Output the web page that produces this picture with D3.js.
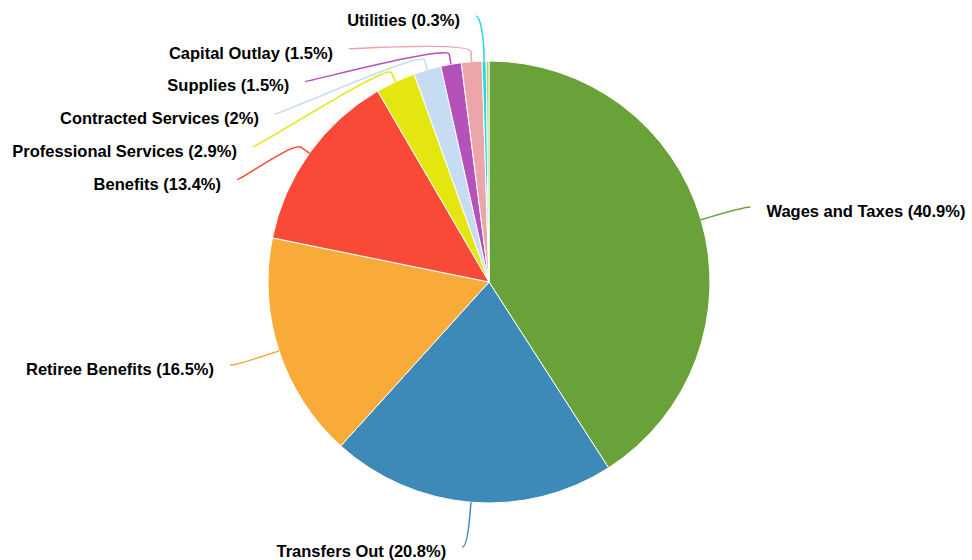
<!DOCTYPE html>
<html>
<head>
<meta charset="utf-8">
<script src="https://cdn.jsdelivr.net/npm/d3@7"></script>
<style>
  body { margin: 0; background: #fff; }
  .label { font-family: "Liberation Sans", Arial, Helvetica, sans-serif; font-weight: bold; font-size: 16.5px; fill: #000; }
</style>
</head>
<body>
<svg id="chart" width="972" height="560"></svg>
<script>
// Spending breakdown, percent of total, clockwise from 12 o'clock
const categories = ["Wages and Taxes", "Transfers Out", "Retiree Benefits", "Benefits",
  "Professional Services", "Contracted Services", "Supplies", "Capital Outlay", "Utilities", "Other"];
const shares = [40.9, 20.8, 16.5, 13.4, 2.9, 2, 1.5, 1.5, 0.3, 0.2];
const colors = ["#6aa23a", "#3d8ab8", "#f8ab38", "#f94a37", "#e3e70f",
  "#c6dcf2", "#b452b9", "#eca5a8", "#26d8dc", "#a6d864"];

const width = 972, height = 560;
const cx = 489, cy = 282, radius = 221;

const svg = d3.select("#chart");
const g = svg.append("g").attr("transform", `translate(${cx},${cy})`);

const data = categories.map((name, i) => ({ name, value: shares[i], color: colors[i] }));
const pie = d3.pie().sort(null).value(d => d.value);
const arcs = pie(data);
const arc = d3.arc().innerRadius(0).outerRadius(radius);

g.selectAll("path.slice")
  .data(arcs)
  .join("path")
  .attr("class", "slice")
  .attr("d", arc)
  .attr("fill", d => d.data.color)
  .attr("stroke", "#fff")
  .attr("stroke-width", 1)
  .attr("stroke-linejoin", "round");

// ---- label layout: natural position, then stacked per side so labels don't collide
const labelDist = radius + 45;   // natural label radius
const anchorDist = radius + 51;  // horizontal placement circle
const breakDist = radius + 10;   // connector elbow
const spacing = 32.7;
const topLimit = 16 - cy;
const polar = (R, a) => [R * Math.sin(a), -R * Math.cos(a)];

const labelled = arcs.filter(a => a.data.value >= 0.25);
labelled.forEach(a => {
  a.mid = (a.startAngle + a.endAngle) / 2;
  a.left = a.mid > Math.PI;
  a.ny = -labelDist * Math.cos(a.mid);
  a.edge = polar(radius, a.mid);
  a.brk = polar(breakDist, a.mid);
});

[true, false].forEach(side => {
  const group = labelled.filter(a => a.left === side).sort((p, q) => p.ny - q.ny);
  let prev = -Infinity;
  group.forEach((a, i) => {
    const y = i === 0 ? Math.max(a.ny, topLimit) : Math.max(a.ny, prev + spacing);
    a.ly = y;
    prev = y;
  });
});

labelled.forEach(a => {
  const sign = a.left ? -1 : 1;
  if (Math.abs(a.ly) < radius + 30) {
    a.lx = sign * Math.sqrt(anchorDist * anchorDist - a.ly * a.ly);
  } else {
    a.lx = a.brk[0] + sign * 8;
  }
});

// connectors: soft curve from the label into the elbow, then straight to the slice edge
const connectorPath = a => {
  const p = d3.path();
  const c1x = a.lx + (a.left ? 5 : -5);
  p.moveTo(a.lx, a.ly);
  p.bezierCurveTo(c1x, a.ly,
    2 * a.brk[0] - a.edge[0], 2 * a.brk[1] - a.edge[1],
    a.brk[0], a.brk[1]);
  p.lineTo(a.edge[0], a.edge[1]);
  return p.toString();
};

g.selectAll("path.connector")
  .data(labelled)
  .join("path")
  .attr("class", "connector")
  .attr("d", connectorPath)
  .attr("fill", "none")
  .attr("stroke", d => d.data.color)
  .attr("stroke-width", 1.5);

g.selectAll("text.label")
  .data(labelled)
  .join("text")
  .attr("class", "label")
  .attr("x", d => d.lx + (d.left ? -16 : 16))
  .attr("y", d => d.ly + 10)
  .attr("text-anchor", d => d.left ? "end" : "start")
  .text(d => `${d.data.name} (${d.data.value}%)`);
</script>
</body>
</html>
